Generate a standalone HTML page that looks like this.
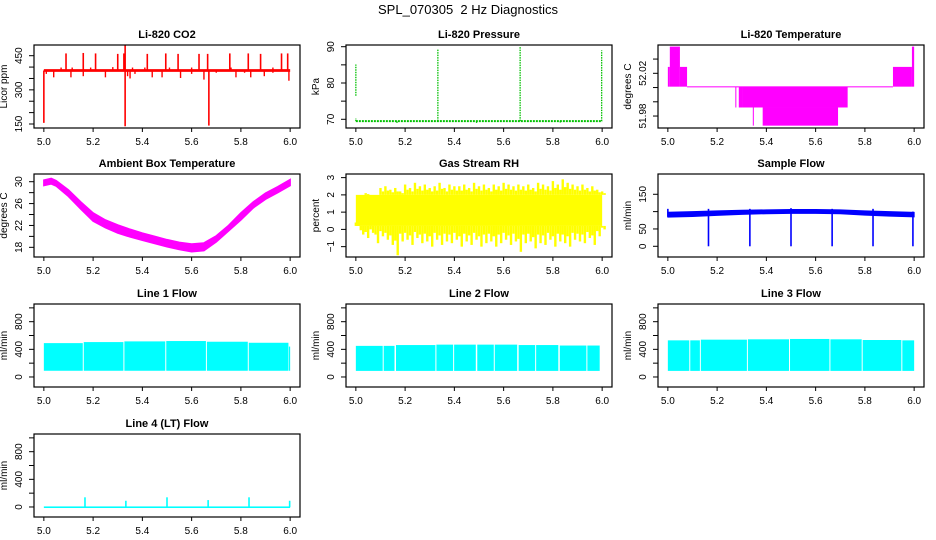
<!DOCTYPE html>
<html><head><meta charset="utf-8"><style>
html,body{margin:0;padding:0;background:#fff;}
svg{display:block;font-family:"Liberation Sans",sans-serif;}
</style></head><body>
<svg id="chart" width="936" height="540" viewBox="0 0 936 540" xmlns="http://www.w3.org/2000/svg">
<rect x="0" y="0" width="936" height="540" fill="#fff"/>
<text x="468" y="14" text-anchor="middle" font-size="13">SPL_070305&#160; 2 Hz Diagnostics</text>
</svg>
<script>
// ---- Data ----
const xTicks = [5.0, 5.2, 5.4, 5.6, 5.8, 6.0];
const xTickLabels = ["5.0", "5.2", "5.4", "5.6", "5.8", "6.0"];

const co2Base = 385;
const co2SpikeX = [5.0, 5.09, 5.16, 5.21, 5.30, 5.325, 5.33, 5.33, 5.42, 5.495, 5.545, 5.63, 5.665, 5.67, 5.755, 5.83, 5.88, 5.965, 5.99];
const co2SpikeY = [155, 460, 462, 460, 458, 460, 497, 140, 458, 460, 458, 458, 458, 143, 460, 460, 458, 460, 460];
const co2DipX = [5.01, 5.04, 5.11, 5.16, 5.25, 5.34, 5.35, 5.37, 5.44, 5.48, 5.555, 5.6, 5.65, 5.7, 5.78, 5.815, 5.84, 5.895, 5.93, 5.995, 5.07, 5.115, 5.19, 5.28, 5.36, 5.41, 5.51, 5.6, 5.76, 5.93];
const co2DipY = [370, 355, 355, 360, 355, 360, 350, 370, 355, 355, 352, 370, 345, 375, 355, 375, 355, 360, 375, 340, 398, 398, 398, 400, 398, 398, 398, 398, 398, 398];

const presBase = 69.5;
const presSpikeX = [5.0, 5.333, 5.667, 5.998, 5.0, 5.167, 5.49, 5.83];
const presSpikeLo = [76.5, 69.5, 69.5, 69.5, 69.5, 69.0, 69.0, 69.1];
const presSpikeHi = [85.1, 89.2, 90.0, 89.0, 70.3, 69.5, 69.5, 69.5];

const tempX0 = [5.0, 5.008, 5.049, 5.078, 5.274, 5.288, 5.305, 5.345, 5.385, 5.914, 5.991];
const tempX1 = [5.008, 5.049, 5.078, 5.914, 5.278, 5.305, 5.730, 5.347, 5.691, 5.991, 6.0];
const tempLo = [52.0075, 52.0075, 52.0075, 52.0072, 51.988, 51.988, 51.988, 51.971, 51.971, 52.0075, 52.0075];
const tempHi = [52.026, 52.045, 52.026, 52.0078, 52.0075, 52.0075, 52.0075, 51.988, 51.988, 52.026, 52.045];

const ambX = [5.0, 5.03, 5.05, 5.1, 5.15, 5.2, 5.25, 5.3, 5.35, 5.4, 5.45, 5.5, 5.55, 5.6, 5.65, 5.7, 5.75, 5.8, 5.85, 5.9, 5.95, 6.0];
const ambHi = [30.3, 30.6, 30.2, 28.5, 26.3, 24.3, 23.0, 22.1, 21.3, 20.6, 20.0, 19.4, 18.9, 18.6, 18.8, 20.1, 22.0, 24.3, 26.3, 27.9, 29.1, 30.4];
const ambLo = [29.3, 29.6, 29.2, 27.3, 25.0, 22.8, 21.6, 20.6, 19.9, 19.3, 18.7, 18.1, 17.6, 17.2, 17.4, 19.0, 21.0, 23.0, 25.2, 26.8, 28.0, 29.3];

const rhCoreLo = 0.2;
const rhCoreHi = 2.0;
const rhMax = [2.0,2.0,2.1,2.0,2.0,2.4,2.5,2.3,2.4,2.2,2.6,2.4,2.7,2.5,2.6,2.4,2.5,2.7,2.4,2.6,2.5,2.5,2.6,2.4,2.7,2.5,2.6,2.4,2.6,2.5,2.7,2.6,2.5,2.6,2.5,2.6,2.4,2.7,2.6,2.5,2.8,2.6,2.9,2.7,2.6,2.5,2.6,2.4,2.5,2.3,2.2];
const rhMin = [0.6,-0.3,-0.5,-0.2,-0.8,-0.4,-0.6,-0.9,-1.5,-0.7,-0.6,-0.9,-0.5,-0.8,-0.7,-1.0,-0.6,-0.9,-0.7,-0.8,-0.6,-1.0,-0.7,-0.9,-0.6,-1.0,-0.8,-0.7,-1.0,-0.8,-0.6,-0.9,-0.7,-1.3,-0.8,-0.7,-1.1,-0.8,-0.9,-0.6,-1.0,-0.7,-0.8,-1.0,-0.6,-0.7,-0.8,-0.5,-0.9,-0.4,0.0];

const sfX = [5.0, 5.1, 5.2, 5.3, 5.4, 5.5, 5.6, 5.7, 5.8, 5.9, 6.0];
const sfHi = [98, 100, 102, 104, 105, 106, 106, 105, 102, 100, 98];
const sfLo = [84, 86, 89, 92, 94, 95, 95, 94, 90, 87, 85];
const sfDropX = [5.0, 5.165, 5.333, 5.5, 5.667, 5.833, 5.995];
const sfDropLo = [85, 0, 0, 0, 0, 0, 0];
const sfDropHi = [108, 108, 108, 110, 108, 108, 100];

const l1Start = [5.0, 5.162, 5.327, 5.497, 5.662, 5.832, 5.995];
const l1End = [5.158, 5.323, 5.493, 5.658, 5.828, 5.993, 6.0];
const l1Top = [490, 505, 515, 520, 510, 495, 440];
const l1Low = 90;

const l2Start = [5.0, 5.113, 5.163, 5.327, 5.399, 5.493, 5.564, 5.661, 5.732, 5.828, 5.940];
const l2End = [5.109, 5.157, 5.323, 5.395, 5.487, 5.560, 5.655, 5.728, 5.822, 5.936, 5.99];
const l2Top = [450, 450, 462, 468, 468, 468, 468, 462, 462, 455, 455];
const l2Low = 88;

const l3Start = [5.0, 5.091, 5.134, 5.325, 5.496, 5.660, 5.791, 5.952];
const l3End = [5.087, 5.130, 5.321, 5.492, 5.656, 5.787, 5.948, 6.0];
const l3Top = [530, 530, 540, 545, 550, 545, 535, 530];
const l3Low = 88;

const l4BaseLo = -15;
const l4BaseHi = 8;
const l4SpikeX = [5.167, 5.333, 5.5, 5.667, 5.833, 5.998];
const l4SpikeHi = [140, 90, 140, 100, 140, 90];

// ---- Layout ----
const NS = "http://www.w3.org/2000/svg";
const svg = document.getElementById("chart");
const colLeft = [34, 346, 658];
const rowTop = [45, 174, 304, 434];
const BW = 266, BH = 83;
const XMIN = 4.96, XMAX = 6.04;

function mk(tag, attrs, parent) {
  const e = document.createElementNS(NS, tag);
  for (const k in attrs) e.setAttribute(k, attrs[k]);
  (parent || svg).appendChild(e);
  return e;
}

function makePanel(col, row, ymin, ymax, yTicks, yLabels, yTitle, title, name) {
  const L = colLeft[col], T = rowTop[row];
  const g = mk("g", {});
  
  
  const sx = v => L + (v - XMIN) / (XMAX - XMIN) * BW;
  const sy = v => T + BH - (v - ymin) / (ymax - ymin) * BH;
  const plot = mk("g", {}, g);
  
  
  const clip = mk("clipPath", {id: "clip-" + name}, g);
  mk("rect", {x: L, y: T, width: BW, height: BH}, clip);
  plot.setAttribute("clip-path", "url(#clip-" + name + ")");
  const box = mk("rect", {x: L, y: T, width: BW, height: BH, fill: "none", stroke: "#000", "stroke-width": 1.2}, g);
  
  
  const xa = mk("g", {}, g);
  
  
  xTicks.forEach((v, i) => {
    mk("line", {x1: sx(v), x2: sx(v), y1: T + BH, y2: T + BH + 4, stroke: "#000"}, xa);
    const t = mk("text", {x: sx(v), y: T + BH + 17, "text-anchor": "middle", "font-size": 10}, xa);
    t.textContent = xTickLabels[i];
  });
  const ya = mk("g", {}, g);
  
  
  yTicks.forEach((v, i) => {
    mk("line", {x1: L - 5, x2: L, y1: sy(v), y2: sy(v), stroke: "#000"}, ya);
    if (yLabels[i]) {
      const x = L - 12, y = sy(v);
      const t = mk("text", {x: x, y: y, "text-anchor": "middle", "font-size": 10, transform: "rotate(-90 " + x + " " + y + ")"}, ya);
      t.textContent = yLabels[i];
    }
  });
  const yt = mk("text", {x: L - 27, y: T + BH / 2, "text-anchor": "middle", "font-size": 10, transform: "rotate(-90 " + (L - 27) + " " + (T + BH / 2) + ")"}, g);
  
  
  yt.textContent = yTitle;
  const tt = mk("text", {x: L + BW / 2, y: T - 7, "text-anchor": "middle", "font-size": 11, "font-weight": "bold"}, g);
  
  
  tt.textContent = title;
  return {sx, sy, plot};
}

function vline(p, x, y0, y1, color, w, extra) {
  const a = {x1: p.sx(x), x2: p.sx(x), y1: p.sy(y0), y2: p.sy(y1), stroke: color, "stroke-width": w || 1.5};
  if (extra) Object.assign(a, extra);
  return mk("line", a, p.plot);
}
function rectV(p, x0, x1, lo, hi, color) {
  const y1 = p.sy(hi), y0 = p.sy(lo);
  return mk("rect", {x: p.sx(x0), y: y1, width: Math.max(1, p.sx(x1) - p.sx(x0)), height: Math.max(1, y0 - y1), fill: color}, p.plot);
}

// CO2
let p = makePanel(0, 0, 132.4, 497, [150,200,250,300,350,400,450], ["150","","","300","","","450"], "Licor ppm", "Li-820 CO2", "co2");
rectV(p, 5.0, 6.0, co2Base - 6, co2Base + 6, "#ff0000");
co2SpikeX.forEach((x, i) => { const e = vline(p, x, co2Base, co2SpikeY[i], "#ff0000", 1.6);  });
co2DipX.forEach((x, i) => { const e = vline(p, x, co2Base, co2DipY[i], "#ff0000", 1.4);  });

// Pressure
p = makePanel(1, 0, 67.6, 90.47, [70,75,80,85,90], ["70","","80","","90"], "kPa", "Li-820 Pressure", "pressure");
mk("line", {x1: p.sx(5.0), x2: p.sx(6.0), y1: p.sy(presBase), y2: p.sy(presBase), stroke: "#00c000", "stroke-width": 2, "stroke-dasharray": "2,1"}, p.plot);
presSpikeX.forEach((x, i) => { const e = vline(p, x, presSpikeLo[i], presSpikeHi[i], "#00c000", 1.3, {"stroke-dasharray": "1.5,1"});  });

// Temperature
p = makePanel(2, 0, 51.9688, 52.0465, [51.98,51.99333,52.00667,52.02,52.03333], ["51.98","","","52.02",""], "degrees C", "Li-820 Temperature", "li820-temp");
tempX0.forEach((x, i) => { const e = rectV(p, x, tempX1[i], tempLo[i], tempHi[i], "#ff00ff");  });

// Ambient
p = makePanel(0, 1, 16.23, 31.41, [18,20,22,24,26,28,30], ["18","","22","","26","","30"], "degrees C", "Ambient Box Temperature", "ambient");
{
  let pts = ambX.map((x, i) => p.sx(x) + "," + p.sy(ambHi[i]));
  for (let i = ambX.length - 1; i >= 0; i--) pts.push(p.sx(ambX[i]) + "," + p.sy(ambLo[i]));
  const e = mk("polygon", {points: pts.join(" "), fill: "#ff00ff", stroke: "#ff00ff", "stroke-width": 1.5}, p.plot);
  
}

// RH
p = makePanel(1, 1, -1.6, 3.21, [-1,0,1,2,3], ["\u22121","0","1","2","3"], "percent", "Gas Stream RH", "rh");
rectV(p, 5.0, 6.0, rhCoreLo, rhCoreHi, "#ffff00");
rhMax.forEach((v, i) => {
  const x = 5.0 + i * 0.02;
  const e = vline(p, x, rhCoreHi, v, "#ffff00", 2.4);
  
  const e2 = vline(p, x + 0.01, rhCoreHi, (v + rhCoreHi) / 2, "#ffff00", 2.4);
  
  const f = vline(p, x + 0.01, rhCoreLo, rhMin[i], "#ffff00", 2.4);
  
  const h = vline(p, x, rhCoreLo, (rhMin[i] + rhCoreLo) / 2, "#ffff00", 2.4);
  
});

// Sample flow
p = makePanel(2, 1, -30.9, 208.5, [0,50,100,150], ["0","50","","150"], "ml/min", "Sample Flow", "sample-flow");
{
  let pts = sfX.map((x, i) => p.sx(x) + "," + p.sy(sfHi[i]));
  for (let i = sfX.length - 1; i >= 0; i--) pts.push(p.sx(sfX[i]) + "," + p.sy(sfLo[i]));
  const e = mk("polygon", {points: pts.join(" "), fill: "#0000ff", stroke: "#0000ff"}, p.plot);
  
  sfDropX.forEach((x, i) => { const d = vline(p, x, sfDropLo[i], sfDropHi[i], "#0000ff", 1.6);  });
}

// Cyan flows
function flowPanel(col, row, title, name, st, en, top, low) {
  const q = makePanel(col, row, -145, 1056, [0,200,400,600,800,1000], ["0","","400","","800",""], "ml/min", title, name);
  st.forEach((x, i) => { const e = rectV(q, x, en[i], low, top[i], "#00ffff");  });
  return q;
}
flowPanel(0, 2, "Line 1 Flow", "line1-flow", l1Start, l1End, l1Top, l1Low);
flowPanel(1, 2, "Line 2 Flow", "line2-flow", l2Start, l2End, l2Top, l2Low);
flowPanel(2, 2, "Line 3 Flow", "line3-flow", l3Start, l3End, l3Top, l3Low);

p = makePanel(0, 3, -145, 1056, [0,200,400,600,800,1000], ["0","","400","","800",""], "ml/min", "Line 4 (LT) Flow", "line4-flow");
rectV(p, 5.0, 6.0, l4BaseLo, l4BaseHi, "#00ffff");
l4SpikeX.forEach((x, i) => { const e = vline(p, x, 0, l4SpikeHi[i], "#00ffff", 1.6);  });
</script>
</body></html>
